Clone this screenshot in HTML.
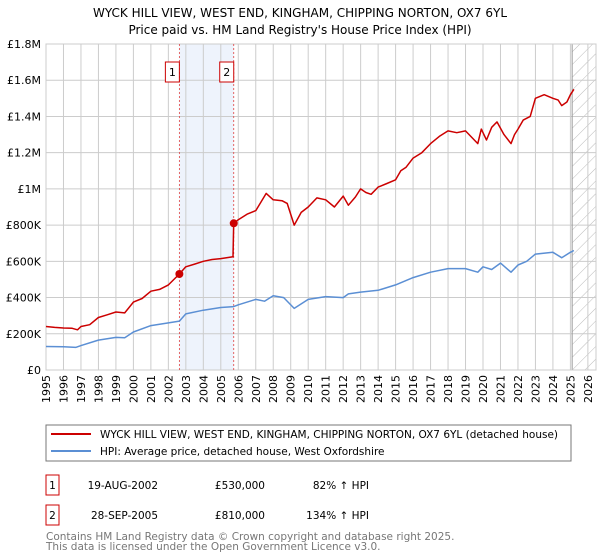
<!DOCTYPE html>
<html><head><meta charset="utf-8"><style>
body{margin:0;background:#fff;font-family:"DejaVu Sans","Liberation Sans",sans-serif;}
#wrap{position:relative;width:600px;height:560px;overflow:hidden}
text{font-family:"DejaVu Sans","Liberation Sans",sans-serif}
</style></head><body><div id="wrap">
<svg id="svg" width="600" height="560"></svg>
</div>
<script>
const redYears=[1995,1995.5,1996,1996.5,1996.8,1997,1997.5,1998,1998.5,1999,1999.5,2000,2000.5,2001,2001.5,2002,2002.63,2003,2003.5,2004,2004.5,2005,2005.7,2005.74,2006,2006.5,2007,2007.6,2008,2008.5,2008.8,2009.2,2009.6,2010,2010.5,2011,2011.5,2012,2012.3,2012.7,2013,2013.3,2013.6,2014,2014.5,2015,2015.3,2015.6,2016,2016.5,2017,2017.5,2018,2018.5,2019,2019.7,2019.9,2020.2,2020.5,2020.8,2021.2,2021.6,2021.8,2022,2022.3,2022.7,2023,2023.5,2024,2024.3,2024.5,2024.8,2025,2025.2];
const redVals=[240,235,232,230,222,240,250,290,305,320,315,375,395,435,445,470,530,570,585,600,610,615,625,810,830,860,880,975,940,935,920,800,870,900,950,940,900,960,910,955,1000,980,970,1010,1030,1050,1100,1120,1170,1200,1250,1290,1320,1310,1320,1250,1330,1270,1340,1370,1300,1250,1300,1330,1380,1400,1500,1520,1500,1490,1460,1480,1520,1550];
const hpiYears=[1995,1996,1996.7,1997,1998,1999,1999.5,2000,2001,2002,2002.63,2003,2004,2005,2005.74,2006,2007,2007.5,2008,2008.6,2009.2,2010,2011,2012,2012.3,2013,2014,2015,2016,2017,2018,2019,2019.7,2020,2020.5,2021,2021.6,2022,2022.5,2023,2024,2024.5,2025,2025.2];
const hpiVals=[130,128,125,135,165,180,178,210,245,260,270,310,330,345,350,360,390,380,410,400,340,390,405,400,420,430,440,470,510,540,560,560,540,570,555,590,540,580,600,640,650,620,650,660];
const yTicks=[0,200,400,600,800,1000,1200,1400,1600,1800];
const yLabels=["£0","£200K","£400K","£600K","£800K","£1M","£1.2M","£1.4M","£1.6M","£1.8M"];
const sales=[{n:"1",year:2002.63,val:530},{n:"2",year:2005.74,val:810}];
const xYears=[];for(let y=1995;y<=2026;y++)xYears.push(y);

const svg=document.getElementById('svg');const NS="http://www.w3.org/2000/svg";
const L=46,R=596,T=44,B=370;
const xs=y=>L+(y-1995)*17.48;
const ys=v=>B-v/1800*(B-T);
function el(t,a,p){const e=document.createElementNS(NS,t);for(const k in a)e.setAttribute(k,a[k]);(p||svg).appendChild(e);return e;}
function tx(x,y,s,a){const e=el('text',Object.assign({x:x,y:y},a));e.textContent=s;return e;}

let t=tx(300,17,"WYCK HILL VIEW, WEST END, KINGHAM, CHIPPING NORTON, OX7 6YL",{"text-anchor":"middle","font-size":"12"});

t=tx(300,34,"Price paid vs. HM Land Registry's House Price Index (HPI)",{"text-anchor":"middle","font-size":"12"});


let sh=el('rect',{x:xs(sales[0].year),y:T,width:xs(sales[1].year)-xs(sales[0].year),height:B-T,fill:"#eef3fc"});

const hx=xs(2025.1);
let defs=el('defs',{});let pat=el('pattern',{id:'h',width:9,height:9,patternUnits:'userSpaceOnUse',patternTransform:'rotate(45)'},defs);
el('line',{x1:0,y1:0,x2:0,y2:9,stroke:'#bbb','stroke-width':1},pat);
let ht=el('rect',{x:hx,y:T,width:R-hx,height:B-T,fill:'url(#h)'});


yTicks.forEach((v,i)=>{const g=el('line',{x1:L,x2:R,y1:ys(v),y2:ys(v),stroke:'#ccc'});

const l=tx(L-5,ys(v)+4,yLabels[i],{"text-anchor":"end","font-size":"11"});
});
xYears.forEach(y=>{const g=el('line',{x1:xs(y),x2:xs(y),y1:T,y2:B,stroke:'#ccc'});

const l=tx(0,0,String(y),{"font-size":"11","text-anchor":"end",transform:`translate(${xs(y)+4},${B+5}) rotate(-90)`});
});
el('line',{x1:hx,x2:hx,y1:T,y2:B,stroke:'#999'});
let fr=el('rect',{x:L,y:T,width:R-L,height:B-T,fill:'none',stroke:'#ccc'});


sales.forEach(s=>{const x=xs(s.year);
const d=el('line',{x1:x,x2:x,y1:T,y2:B,stroke:'#e04040','stroke-dasharray':'2,2','stroke-width':0.8});

const b=el('rect',{x:x-14,y:62,width:14,height:20,fill:'#fff',stroke:'#cc0000'});

tx(x-7,76,s.n,{"text-anchor":"middle","font-size":"11"});});

function path(xsA,vs,col,name){let d="";xsA.forEach((y,i)=>{d+=(i?"L":"M")+xs(y).toFixed(1)+","+ys(vs[i]).toFixed(1);});
const p=el('path',{d:d,fill:'none',stroke:col,'stroke-width':1.5,'stroke-linejoin':'round'});
}
path(hpiYears,hpiVals,'#5b8fd4','hpi-line');
path(redYears,redVals,'#cc0000','price-paid-line');
sales.forEach(s=>{const c=el('circle',{cx:xs(s.year),cy:ys(s.val),r:4,fill:'#cc0000'});
});

let lg=el('rect',{x:46,y:425,width:525,height:36,fill:'#fff',stroke:'#777'});

el('line',{x1:51,x2:91,y1:434,y2:434,stroke:'#cc0000','stroke-width':2});
t=tx(100,438,"WYCK HILL VIEW, WEST END, KINGHAM, CHIPPING NORTON, OX7 6YL (detached house)",{"font-size":"10.5"});

el('line',{x1:51,x2:91,y1:451,y2:451,stroke:'#5b8fd4','stroke-width':2});
t=tx(100,455,"HPI: Average price, detached house, West Oxfordshire",{"font-size":"10.5"});


const rows=[["1","19-AUG-2002","£530,000","82% ↑ HPI",485],["2","28-SEP-2005","£810,000","134% ↑ HPI",515]];
rows.forEach(r=>{const b=el('rect',{x:46,y:r[4]-10,width:13,height:20,fill:'#fff',stroke:'#cc0000'});

tx(52.5,r[4]+4,r[0],{"text-anchor":"middle","font-size":"10.5"});
t=tx(158,r[4]+4,r[1],{"text-anchor":"end","font-size":"10.5"});
t=tx(265,r[4]+4,r[2],{"text-anchor":"end","font-size":"10.5"});
t=tx(369,r[4]+4,r[3],{"text-anchor":"end","font-size":"10.5"});});
t=tx(46,540,"Contains HM Land Registry data © Crown copyright and database right 2025.",{"font-size":"10.5",fill:"#777"});

t=tx(46,550,"This data is licensed under the Open Government Licence v3.0.",{"font-size":"10.5",fill:"#777"});

</script></body></html>
